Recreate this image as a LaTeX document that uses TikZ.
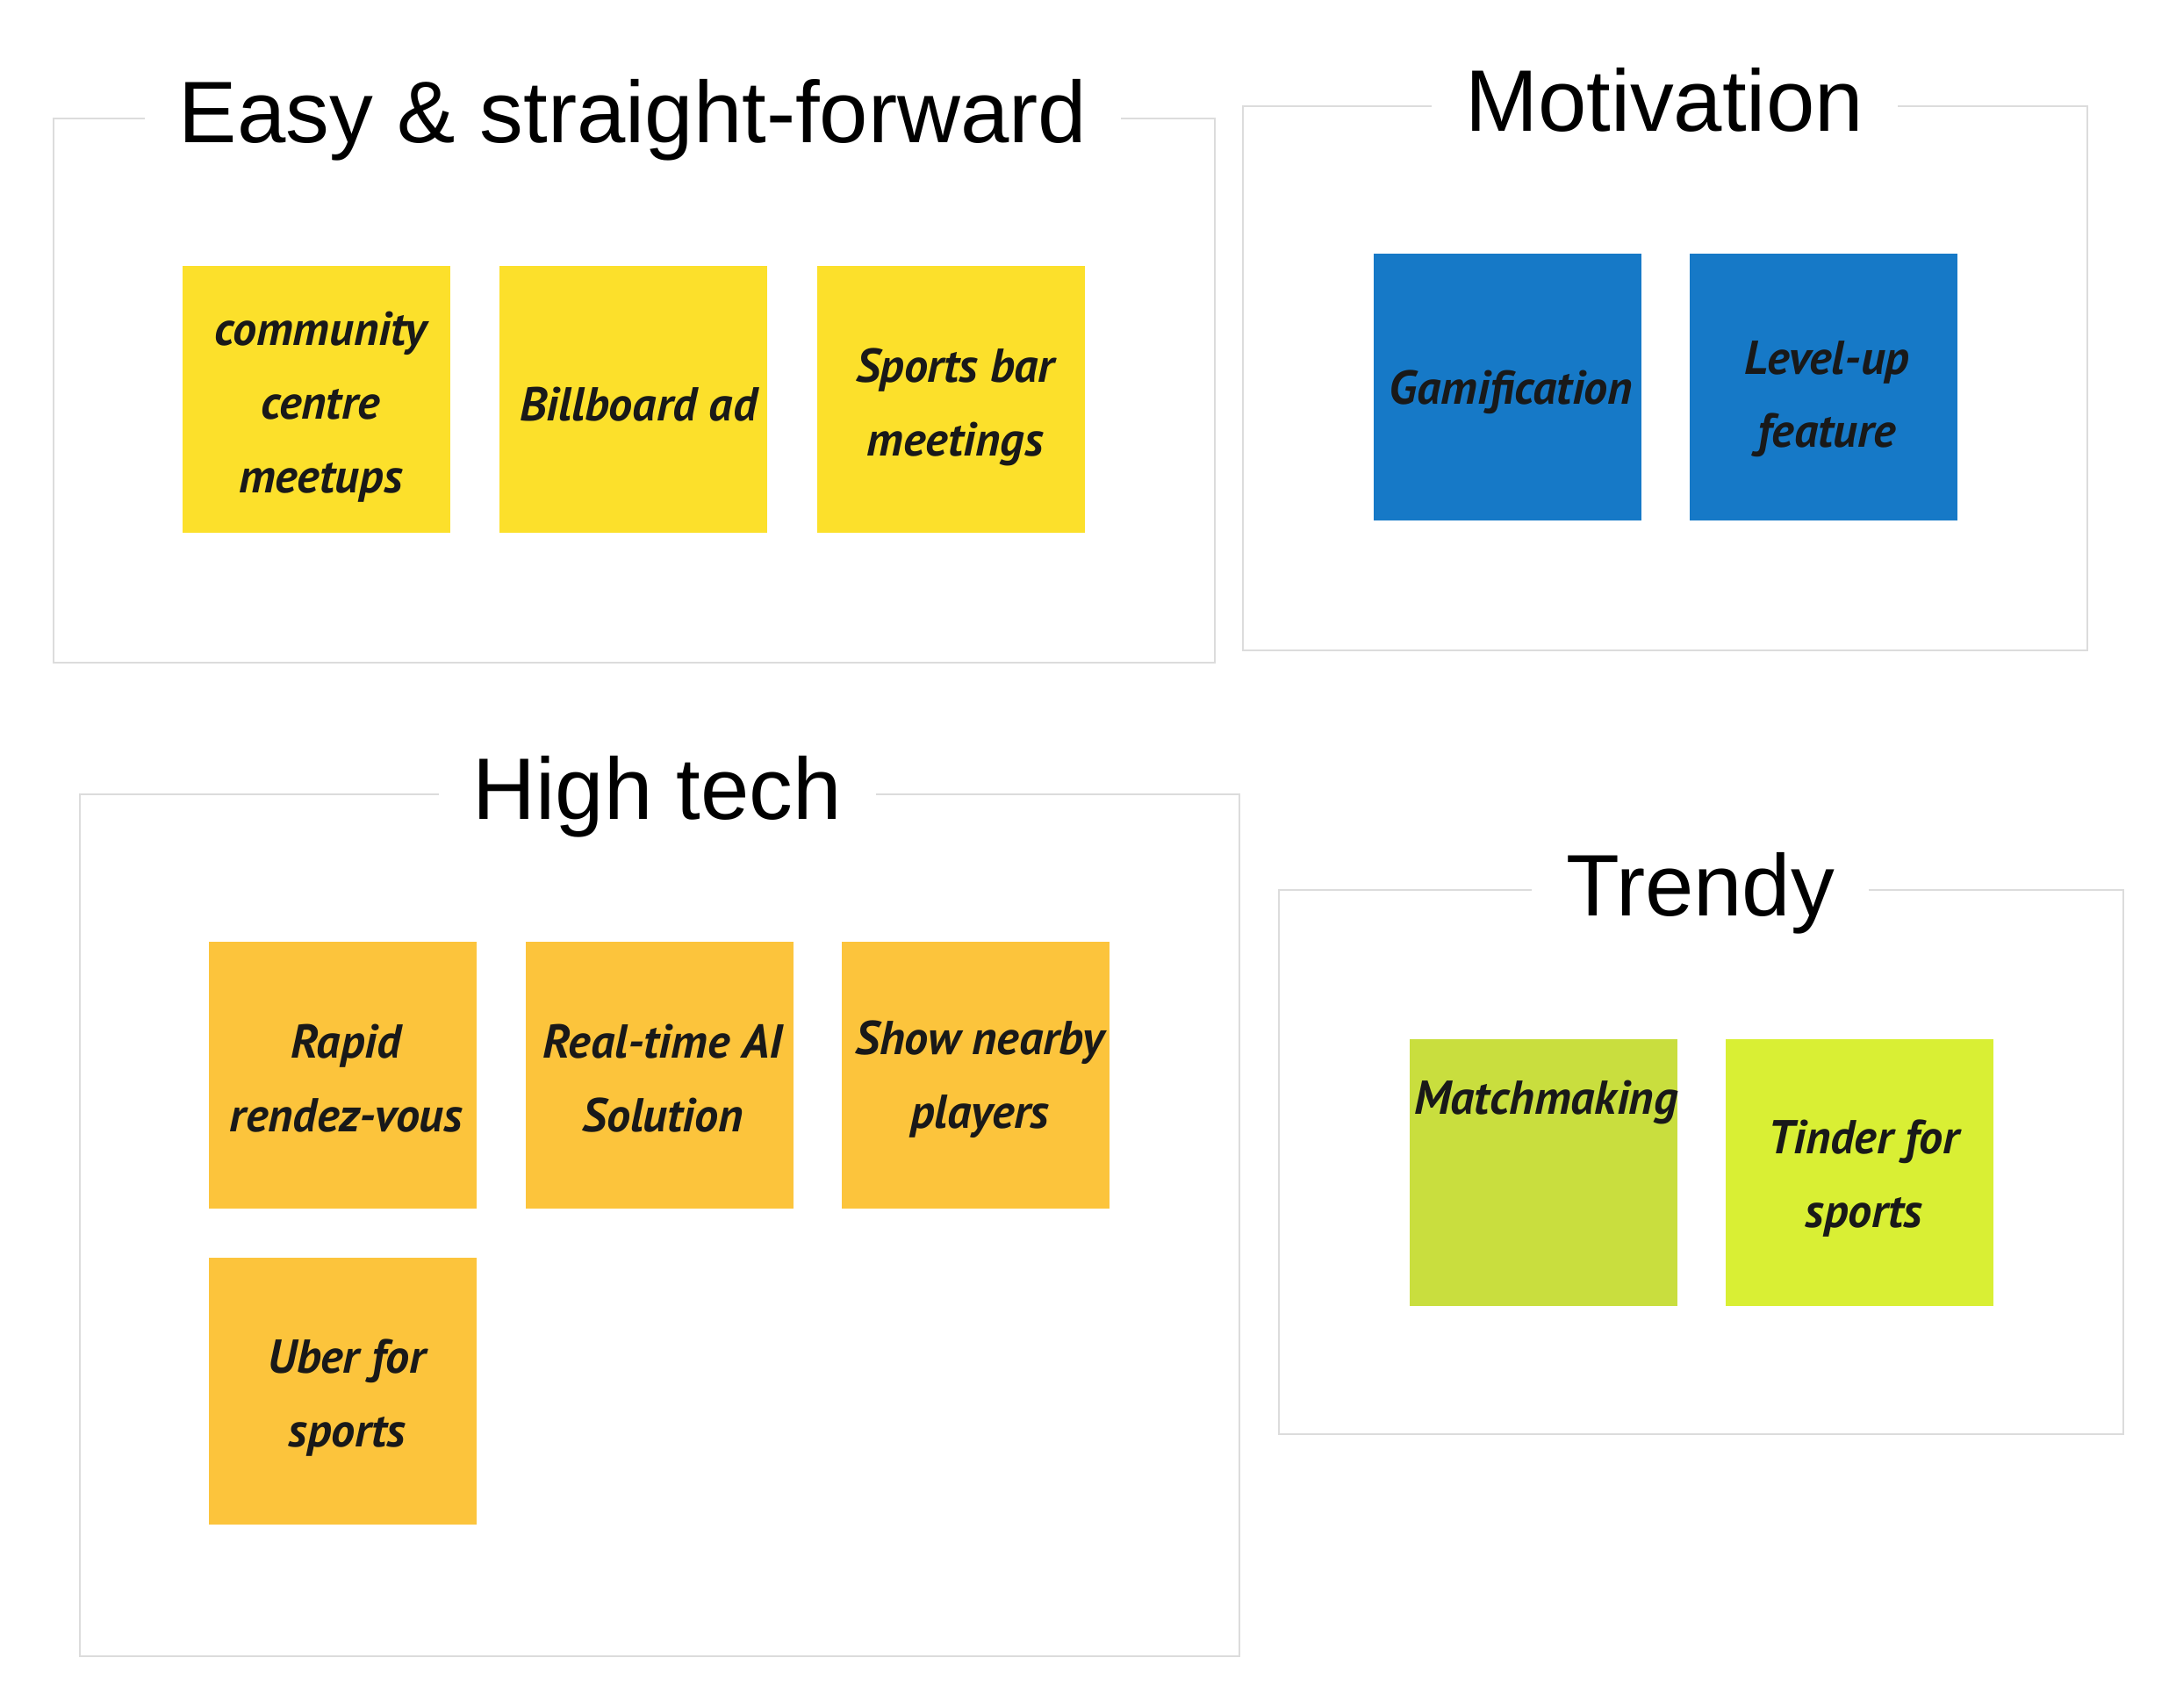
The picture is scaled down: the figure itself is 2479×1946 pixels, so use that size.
\documentclass[tikz,border=0pt]{standalone}
\usepackage{fontspec}
\setmainfont{Liberation Sans}
\newfontfamily\handfont{PT Sans}
\definecolor{frameline}{HTML}{DCDCDC}
\definecolor{noteyellow}{HTML}{FCE02B}
\definecolor{noteorange}{HTML}{FCC43C}
\definecolor{noteblue}{HTML}{1679C7}
\definecolor{notegreen}{HTML}{C9DE3E}
\definecolor{notelime}{HTML}{D9EF34}
\tikzset{
  groupframe/.style={draw=frameline, line width=0.6pt, anchor=north west, inner sep=0pt},
  grouptitle/.style={anchor=base, fill=white, inner xsep=11pt, inner ysep=2pt,
    font=\fontsize{28.3}{32}\selectfont},
  sticky/.style={anchor=north west, minimum width=3.05cm, minimum height=3.04cm,
    inner sep=0pt},
  notetext/.style={inner sep=0pt, align=center, text=black!90,
    font=\handfont\bfseries\itshape\fontsize{15.4}{23.8}\selectfont},
}
\begin{document}
\begin{tikzpicture}[x=0.01cm, y=-0.01cm]
\useasboundingbox (0,0) rectangle (2479,1946);

% group frames
\node[groupframe, minimum width=13.22cm, minimum height=6.20cm] (fEasy) at (60,134) {};
\node[groupframe, minimum width=9.61cm, minimum height=6.20cm] (fMot) at (1415,120) {};
\node[groupframe, minimum width=13.20cm, minimum height=9.81cm] (fHigh) at (90,904) {};
\node[groupframe, minimum width=9.61cm, minimum height=6.20cm] (fTrend) at (1456,1013) {};

% titles breaking the top edge of each frame
\node[grouptitle] (tEasy) at (721,163) {Easy \& straight-forward};
\node[grouptitle] (tMot) at (1896,150) {Motivation};
\node[grouptitle] (tHigh) at (749,933) {High tech};
\node[grouptitle] (tTrend) at (1937,1043) {Trendy};

% sticky notes
\node[sticky, fill=noteyellow] (n1) at (207,302) {};
\node[sticky, fill=noteyellow] (n2) at (568,302) {};
\node[sticky, fill=noteyellow] (n3) at (930,302) {};
\node[sticky, fill=noteblue] (n4) at (1564,288) {};
\node[sticky, fill=noteblue] (n5) at (1924,288) {};
\node[sticky, fill=noteorange] (n6) at (237,1072) {};
\node[sticky, fill=noteorange] (n7) at (598,1072) {};
\node[sticky, fill=noteorange] (n8) at (958,1072) {};
\node[sticky, fill=noteorange] (n9) at (237,1432) {};
\node[sticky, fill=notegreen] (n10) at (1605,1183) {};
\node[sticky, fill=notelime] (n11) at (1965,1183) {};

% handwritten note texts
\node[notetext] (x1) at ([shift={(5,9)}]n1.center) {community\\centre\\meetups};
\node[notetext] (x2) at ([shift={(6,6)}]n2.center) {Billboard ad};
\node[notetext] (x3) at ([shift={(5,9)}]n3.center) {Sports bar\\meetings};
\node[notetext] (x4) at ([shift={(4,6)}]n4.center) {Gamification};
\node[notetext] (x5) at ([shift={(4,14)}]n5.center) {Level-up\\feature};
\node[notetext] (x6) at ([shift={(4,4)}]n6.center) {Rapid\\rendez-vous};
\node[notetext] (x7) at ([shift={(4,4)}]n7.center) {Real-time AI\\Solution};
\node[notetext] (x8) at ([shift={(5,5)}]n8.center) {Show nearby\\players};
\node[notetext] (x9) at ([shift={(5,8)}]n9.center) {Uber for\\sports};
\node[notetext, anchor=base] (x10) at ([shift={(3,86)}]n10.north) {Matchmaking};
\node[notetext] (x11) at ([shift={(5,7)}]n11.center) {Tinder for\\sports};
\end{tikzpicture}
\end{document}
